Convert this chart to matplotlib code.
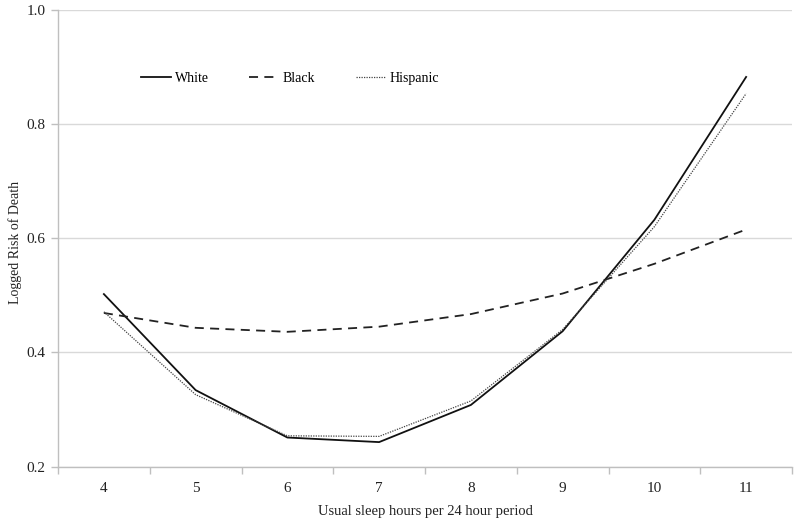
import matplotlib
matplotlib.use("Agg")
import matplotlib.pyplot as plt
import numpy as np

categories = ["4", "5", "6", "7", "8", "9", "10", "11"]
white = [0.502, 0.334, 0.251, 0.243, 0.308, 0.437, 0.632, 0.882]
black = [0.469, 0.443, 0.436, 0.445, 0.467, 0.503, 0.555, 0.615]
hispanic = [0.471, 0.326, 0.254, 0.253, 0.315, 0.440, 0.620, 0.853]
yticks = [0.2, 0.4, 0.6, 0.8, 1.0]

plt.rcParams['font.family'] = ['Liberation Serif', 'DejaVu Serif']

fig = plt.figure(figsize=(8, 5.23), dpi=100)
ax = fig.add_axes([0.0725, 0.1077, 0.9175, 0.8741])

x = np.arange(len(categories))
ax.plot(x, white, color='#111111', lw=1.3, ls='-', label='White')
ax.plot(x, black, color='#222222', lw=1.3, ls=(0, (5, 3.5)), label='Black')
ax.plot(x, hispanic, color='#444444', lw=0.9, ls=(0, (1, 1)), label='Hispanic')

ax.set_xlim(-0.5, len(categories) - 0.5)
ax.set_ylim(0.2, 1.0)
ax.set_xticks(np.arange(-0.5, len(categories), 1.0))
ax.set_xticklabels([])
ax.set_xticks(x, minor=True)
ax.set_xticklabels(categories, minor=True)
ax.tick_params(axis='x', which='major', length=5, color='#bfbfbf', width=1)
ax.tick_params(axis='x', which='minor', length=0, pad=11, labelsize=11, colors='#222222')
ax.set_yticks(yticks)
ax.set_yticklabels([f"{v:.1f}" for v in yticks])
ax.tick_params(axis='y', length=5, color='#bfbfbf', width=1, labelsize=11, colors='#222222', pad=4)
ax.grid(axis='y', color='#d9d9d9', lw=1)
ax.set_axisbelow(True)
for s in ['top', 'right']:
    ax.spines[s].set_visible(False)
for s in ['left', 'bottom']:
    ax.spines[s].set_color('#bfbfbf')
    ax.spines[s].set_linewidth(1)

ax.set_xlabel("Usual sleep hours per 24 hour period", fontsize=10.5, color='#222222')
ax.xaxis.set_label_coords(0.5, -0.083)
ax.set_ylabel("Logged Risk of Death", fontsize=10, color='#222222')
ax.yaxis.set_label_coords(-0.049, 0.49)

ax.legend(loc='center left', bbox_to_anchor=(0.0955, 0.85), ncol=3, frameon=False,
          fontsize=10, handlelength=2.2, handletextpad=0.25, columnspacing=2.9)

fig.savefig("out.png", dpi=100)
